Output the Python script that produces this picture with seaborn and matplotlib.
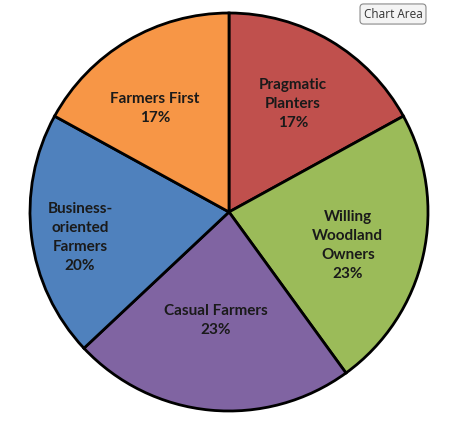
import numpy as np
import matplotlib
matplotlib.use("Agg")
import matplotlib.pyplot as plt
import seaborn as sns

segments = ["Pragmatic\nPlanters", "Willing\nWoodland\nOwners", "Casual Farmers",
            "Business-\noriented\nFarmers", "Farmers First"]
shares = [17, 23, 23, 20, 17]
colors = ["#C0504D", "#9BBB59", "#8064A2", "#4F81BD", "#F79646"]

sns.set_style("white")
plt.rcParams['font.family'] = ['Lato', 'DejaVu Sans']

fig = plt.figure(figsize=(4.67, 4.28), dpi=100)
ax = fig.add_axes([0, 0, 1, 1])

labels = [f"{s}\n{v}%" for s, v in zip(segments, shares)]
wedges, texts = ax.pie(
    shares, labels=labels, colors=colors, startangle=90, counterclock=False,
    center=(229, 216), radius=199, labeldistance=0.62,
    wedgeprops=dict(edgecolor="black", linewidth=2.0),
    textprops=dict(fontsize=11, fontweight="bold", color="#1a1a1a",
                   ha="center", va="center", linespacing=1.45),
    frame=True,
)

# nudge labels to roughly where they sit in the original
label_r = [0.63, 0.62, 0.55, 0.76, 0.64]
label_turn = [0, -3, -1.5, 2.5, 5]
for w, t, r, d in zip(wedges, texts, label_r, label_turn):
    ang = np.deg2rad((w.theta1 + w.theta2) / 2 + d)
    t.set_position((229 + 199 * r * np.cos(ang), 216 + 199 * r * np.sin(ang)))
    t.set_ha("center")
    t.set_va("center")

ax.set_xlim(0, 467)
ax.set_ylim(0, 428)
ax.set_aspect("equal")
ax.axis("off")

fig.text(393 / 467, 1 - 14 / 428, "Chart Area", fontsize=8.5, color="#333333",
         ha="center", va="center", family=['Open Sans', 'DejaVu Sans'],
         bbox=dict(boxstyle="round,pad=0.3", facecolor="#f4f4f4",
                   edgecolor="#8a8a8a", linewidth=0.8))

fig.savefig("out.png", dpi=100)
